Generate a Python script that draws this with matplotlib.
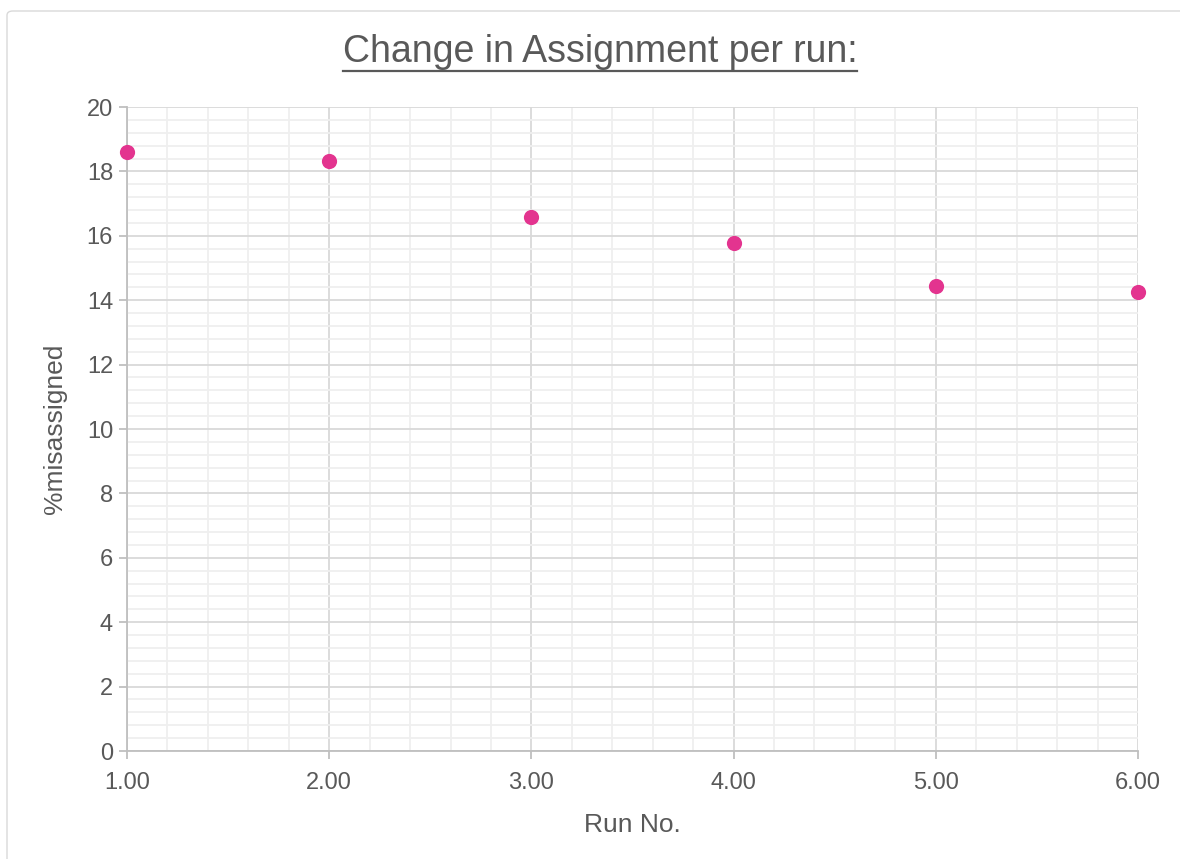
import matplotlib.pyplot as plt
from matplotlib.lines import Line2D
from matplotlib.patches import FancyBboxPatch
from matplotlib.ticker import MultipleLocator, FormatStrFormatter

GRID_MAJOR = '#d9d9d9'
GRID_MINOR = '#efefef'
TEXT = '#595959'
PINK = '#e3348f'

plt.rcParams["font.family"] = ["Liberation Sans", "DejaVu Sans"]

runs = [1, 2, 3, 4, 5, 6]
misassigned = [18.6, 18.32, 16.58, 15.78, 14.44, 14.25]

fig = plt.figure(figsize=(11.8, 8.59), dpi=100)
ax = fig.add_axes([127 / 1180, 1 - 751 / 859, (1138 - 127) / 1180, (751 - 107) / 859])

# outer chart frame
frame = FancyBboxPatch((7 / 1180, -0.05), 1.2, 1 - 11 / 859 + 0.05,
                       boxstyle='round,pad=0,rounding_size=0.005',
                       transform=fig.transFigure, facecolor='white',
                       edgecolor='#d9d9d9', linewidth=1.0, zorder=-10)
fig.patches.append(frame)

ax.scatter(runs, misassigned, s=120, color=PINK, zorder=5, clip_on=False, linewidths=0)

ax.set_xlim(1, 6)
ax.set_ylim(0, 20)
ax.xaxis.set_major_locator(MultipleLocator(1))
ax.xaxis.set_minor_locator(MultipleLocator(0.2))
ax.yaxis.set_major_locator(MultipleLocator(2))
ax.yaxis.set_minor_locator(MultipleLocator(0.4))
ax.xaxis.set_major_formatter(FormatStrFormatter('%.2f'))

ax.grid(True, which='minor', color=GRID_MINOR, linewidth=1.3)
ax.grid(True, which='major', color=GRID_MAJOR, linewidth=1.3)
ax.set_axisbelow(True)

for side in ['top', 'right']:
    ax.spines[side].set_visible(False)
for side in ['left', 'bottom']:
    ax.spines[side].set_color('#bfbfbf')
    ax.spines[side].set_linewidth(1.3)

ax.tick_params(which='major', length=6, width=1.3, color='#bfbfbf',
               labelsize=17, labelcolor=TEXT)
ax.tick_params(axis='x', which='major', pad=9)
ax.tick_params(axis='y', which='major', pad=4)
ax.tick_params(which='minor', length=0)

ax.set_xlabel('Run No.', fontsize=19, color=TEXT, labelpad=14)
ax.set_ylabel('%misassigned', fontsize=19, color=TEXT, labelpad=14)

title = fig.text(0.5085, 1 - 62 / 859, 'Change in Assignment per run:', ha='center',
                 va='baseline', fontsize=27, color=TEXT)

# underline the title
fig.canvas.draw()
bb = title.get_window_extent().transformed(fig.transFigure.inverted())
y_line = 1 - 71 / 859
fig.add_artist(Line2D([bb.x0, bb.x1], [y_line, y_line], transform=fig.transFigure,
                      color=TEXT, linewidth=1.6))

fig.savefig('out.png', dpi=100)
